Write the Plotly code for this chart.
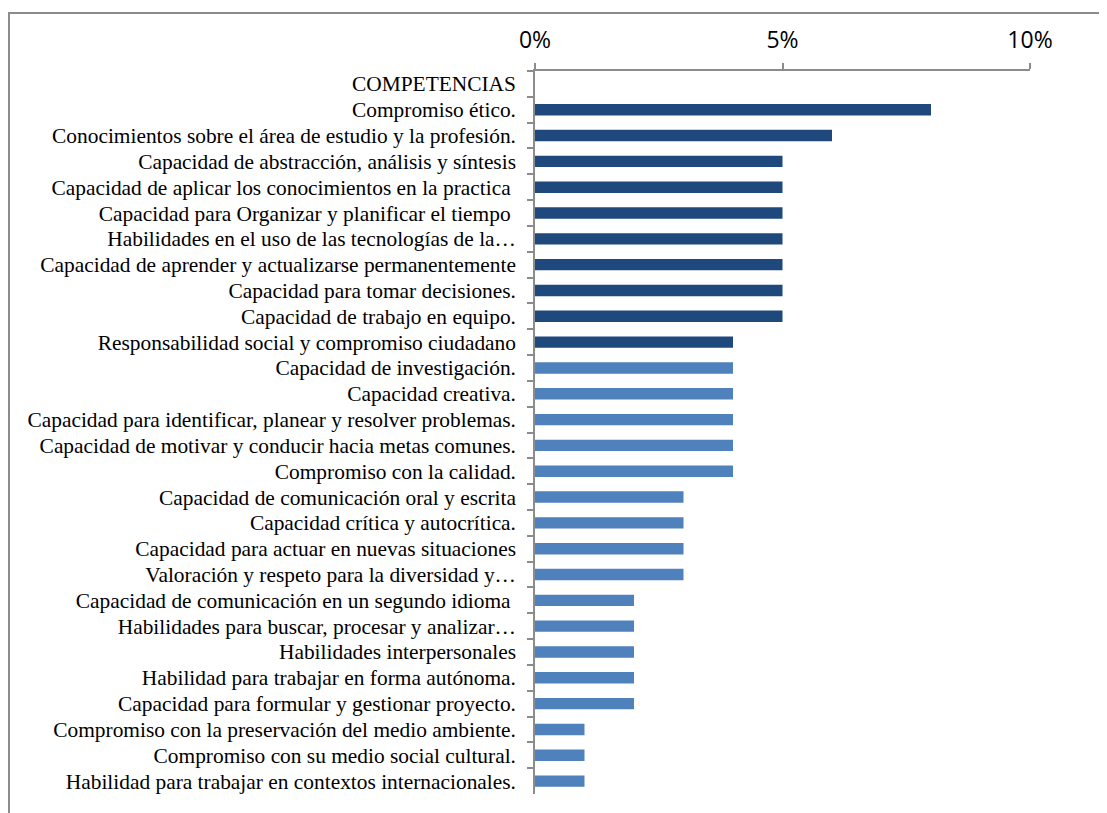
import plotly.graph_objects as go

categories = [
    "COMPETENCIAS",
    "Compromiso ético.",
    "Conocimientos sobre el área de estudio y la profesión.",
    "Capacidad de abstracción, análisis y síntesis",
    "Capacidad de aplicar los conocimientos en la practica ",
    "Capacidad para Organizar y planificar el tiempo ",
    "Habilidades en el uso de las tecnologías de la…",
    "Capacidad de aprender y actualizarse permanentemente",
    "Capacidad para tomar decisiones.",
    "Capacidad de trabajo en equipo.",
    "Responsabilidad social y compromiso ciudadano",
    "Capacidad de investigación.",
    "Capacidad creativa.",
    "Capacidad para identificar, planear y resolver problemas.",
    "Capacidad de motivar y conducir hacia metas comunes.",
    "Compromiso con la calidad.",
    "Capacidad de comunicación oral y escrita",
    "Capacidad crítica y autocrítica.",
    "Capacidad para actuar en nuevas situaciones",
    "Valoración y respeto para la diversidad y…",
    "Capacidad de comunicación en un segundo idioma ",
    "Habilidades para buscar, procesar y analizar…",
    "Habilidades interpersonales",
    "Habilidad para trabajar en forma autónoma.",
    "Capacidad para formular y gestionar proyecto.",
    "Compromiso con la preservación del medio ambiente.",
    "Compromiso con su medio social cultural.",
    "Habilidad para trabajar en contextos internacionales.",
]
values = [None, 0.08, 0.06, 0.05, 0.05, 0.05, 0.05, 0.05, 0.05, 0.05, 0.04,
          0.04, 0.04, 0.04, 0.04, 0.04, 0.03, 0.03, 0.03, 0.03,
          0.02, 0.02, 0.02, 0.02, 0.02, 0.01, 0.01, 0.01]
groups = ["", "top"] + ["top"] * 9 + ["rest"] * 17

group_colors = {"": "#1F497D", "top": "#1F497D", "rest": "#4F81BD"}
colors = [group_colors[g] for g in groups]

fig = go.Figure(go.Bar(
    x=values, y=categories, orientation="h",
    marker=dict(color=colors, line=dict(width=0)),
    hoverinfo="x+y",
))

L, T, PW, PH = 527, 63, 495, 723
fig.update_layout(
    width=1107, height=813,
    margin=dict(l=L, r=1107 - L - PW, t=T, b=813 - T - PH),
    paper_bgcolor="white", plot_bgcolor="white",
    bargap=0.56,
    showlegend=False,
    shapes=[dict(type="rect", xref="paper", yref="paper",
                 x0=(1 - L) / PW, x1=(1120 - L) / PW,
                 y0=(T + PH - 830) / PH, y1=(T + PH - 5) / PH,
                 line=dict(color="#8C8C8C", width=2), layer="below")],
)
fig.update_xaxes(
    side="top", range=[0, 0.1], tickvals=[0, 0.05, 0.1],
    ticktext=["0%", "5%", "10%"],
    showgrid=False, zeroline=False,
    showline=True, linecolor="#8C8C8C", linewidth=1.5,
    ticks="outside", ticklen=6, tickcolor="#8C8C8C", tickwidth=1.5,
    tickfont=dict(family="Open Sans", size=23, color="black"),
    ticklabelstandoff=6,
)
fig.update_yaxes(
    autorange="reversed", type="category",
    tickmode="linear", tick0=0, dtick=1,
    showgrid=False, zeroline=False,
    showline=True, linecolor="#8C8C8C", linewidth=1.5,
    ticks="outside", tickson="boundaries", ticklen=6,
    tickcolor="#8C8C8C", tickwidth=1.5,
    tickfont=dict(family="Liberation Serif, serif", size=21.4, color="black"),
    ticklabelstandoff=13,
)

fig.write_html("out.html")
